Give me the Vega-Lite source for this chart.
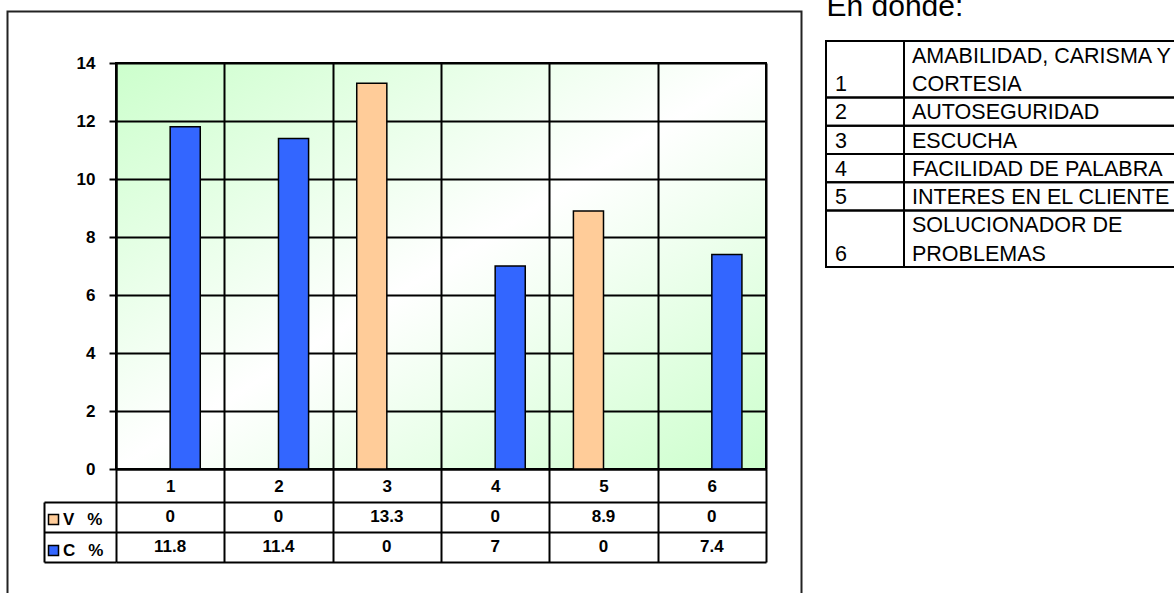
{
  "$schema": "https://vega.github.io/schema/vega-lite/v6.json",
  "width": 650,
  "height": 406,
  "autosize": {"type": "none"},
  "padding": {"left": 116, "top": 63, "right": 408, "bottom": 124},
  "background": "white",
  "view": {
    "fill": {
      "gradient": "linear", "x1": 0, "y1": 0, "x2": 1, "y2": 1,
      "stops": [
        {"offset": 0, "color": "#ccffcc"},
        {"offset": 0.5, "color": "#ffffff"},
        {"offset": 1, "color": "#ccffcc"}
      ]
    },
    "stroke": "black",
    "strokeWidth": 2
  },
  "config": {
    "font": "Liberation Sans, Arial, Helvetica, sans-serif",
    "axis": {"labelColor": "black", "titleColor": "black"}
  },
  "datasets": {
    "valores": [
      {"criterio": "1", "serie": "V %", "pct": 0},
      {"criterio": "2", "serie": "V %", "pct": 0},
      {"criterio": "3", "serie": "V %", "pct": 13.3},
      {"criterio": "4", "serie": "V %", "pct": 0},
      {"criterio": "5", "serie": "V %", "pct": 8.9},
      {"criterio": "6", "serie": "V %", "pct": 0},
      {"criterio": "1", "serie": "C %", "pct": 11.8},
      {"criterio": "2", "serie": "C %", "pct": 11.4},
      {"criterio": "3", "serie": "C %", "pct": 0},
      {"criterio": "4", "serie": "C %", "pct": 7},
      {"criterio": "5", "serie": "C %", "pct": 0},
      {"criterio": "6", "serie": "C %", "pct": 7.4}
    ],
    "definiciones": [
      {"num": "1", "texto": "AMABILIDAD, CARISMA Y"},
      {"num": "1", "texto": "CORTESIA"},
      {"num": "2", "texto": "AUTOSEGURIDAD"},
      {"num": "3", "texto": "ESCUCHA"},
      {"num": "4", "texto": "FACILIDAD DE PALABRA"},
      {"num": "5", "texto": "INTERES EN EL CLIENTE"},
      {"num": "6", "texto": "SOLUCIONADOR DE"},
      {"num": "6", "texto": "PROBLEMAS"}
    ]
  },
  "layer": [
    {
      "data": {"name": "valores"},
      "mark": {"type": "bar", "stroke": "black", "strokeWidth": 1.5},
      "encoding": {
        "x": {
          "field": "criterio", "type": "nominal",
          "scale": {"type": "band", "domain": ["1", "2", "3", "4", "5", "6"], "paddingInner": 0, "paddingOuter": 0},
          "axis": {
            "orient": "bottom", "title": null, "labelAngle": 0, "tickBand": "extent",
            "domain": true, "domainColor": "black", "domainWidth": 2,
            "ticks": true, "tickSize": 93, "tickColor": "black", "tickWidth": 2,
            "grid": true, "gridColor": "black", "gridWidth": 2, "gridOpacity": 1,
            "labelFontSize": 17, "labelFontWeight": "bold", "labelColor": "black",
            "labelBaseline": "middle", "labelPadding": -76
          }
        },
        "xOffset": {
          "field": "serie", "type": "nominal",
          "scale": {"domain": ["V %", "C %"], "paddingInner": 0, "paddingOuter": 0.8}
        },
        "y": {
          "field": "pct", "type": "quantitative",
          "scale": {"domain": [0, 14], "nice": false},
          "axis": {
            "title": null, "values": [0, 2, 4, 6, 8, 10, 12, 14],
            "domain": true, "domainColor": "black", "domainWidth": 2,
            "ticks": true, "tickSize": 7, "tickColor": "black", "tickWidth": 2,
            "grid": true, "gridColor": "black", "gridWidth": 2, "gridOpacity": 1,
            "labelFontSize": 17, "labelFontWeight": "bold", "labelColor": "black", "labelPadding": 14
          }
        },
        "color": {
          "field": "serie", "type": "nominal",
          "scale": {"domain": ["V %", "C %"], "range": ["#ffcc99", "#3366ff"]},
          "legend": {
            "orient": "none", "direction": "vertical", "legendX": -71, "legendY": 448,
            "title": null, "padding": 0,
            "symbolType": "square", "symbolSize": 100, "symbolStrokeColor": "black",
            "symbolStrokeWidth": 1.5, "symbolOpacity": 1,
            "labelFontSize": 17, "labelFontWeight": "bold", "labelColor": "black",
            "labelOffset": 1, "rowPadding": 13,
            "labelExpr": "replace(datum.label, ' ', '\u00a0\u00a0\u2009')"
          }
        }
      }
    },
    {
      "data": {"name": "valores"},
      "mark": {"type": "text", "fontSize": 17, "fontWeight": "bold", "color": "black"},
      "encoding": {
        "x": {
          "field": "criterio", "type": "nominal",
          "scale": {"type": "band", "domain": ["1", "2", "3", "4", "5", "6"], "paddingInner": 0, "paddingOuter": 0},
          "axis": null
        },
        "y": {
          "field": "serie", "type": "nominal",
          "scale": {"type": "band", "domain": ["V %", "C %"], "range": [439, 499], "paddingInner": 0, "paddingOuter": 0},
          "axis": {
            "orient": "left", "offset": 72, "title": null, "labels": false, "tickBand": "extent",
            "domain": true, "domainColor": "black", "domainWidth": 2,
            "ticks": true, "tickSize": -72, "tickColor": "black", "tickWidth": 2,
            "grid": true, "gridColor": "black", "gridWidth": 2, "gridOpacity": 1
          }
        },
        "text": {"field": "pct", "type": "quantitative"}
      }
    },
    {
      "data": {"values": [{}]},
      "mark": {"type": "rect", "filled": false, "stroke": "#222222", "strokeWidth": 2},
      "encoding": {
        "x": {"datum": 0, "type": "quantitative", "scale": {"domain": [0, 1], "range": [-108.5, 685.5]}, "axis": null},
        "x2": {"datum": 1},
        "y": {"datum": 0, "type": "quantitative", "scale": {"domain": [0, 1], "range": [-51.5, 540]}, "axis": null},
        "y2": {"datum": 1}
      }
    },
    {
      "data": {"name": "definiciones"},
      "transform": [{"window": [{"op": "row_number", "as": "linea"}]}],
      "encoding": {
        "x": {
          "datum": "tabla", "type": "nominal",
          "scale": {"type": "band", "domain": ["tabla"], "range": [710, 1064], "paddingInner": 0, "paddingOuter": 0},
          "axis": {
            "orient": "top", "offset": 22, "title": "En donde:",
            "labels": false, "ticks": false, "domain": false, "grid": false,
            "titleAnchor": "start", "titleAlign": "left", "titleBaseline": "alphabetic",
            "titleFontSize": 30, "titleFontWeight": "normal", "titleColor": "black", "titlePadding": 26
          }
        }
      },
      "layer": [
        {
          "mark": {"type": "bar", "fill": "transparent", "stroke": "black", "strokeWidth": 2},
          "encoding": {
            "y": {
              "aggregate": "count", "type": "quantitative", "stack": "zero",
              "scale": {"domain": [0, 8], "range": [-22, 204], "nice": false, "zero": false},
              "axis": null
            },
            "detail": {"field": "num", "type": "nominal"},
            "order": {"field": "num", "type": "ordinal", "sort": "ascending"}
          }
        },
        {
          "mark": {"type": "rule", "xOffset": -99, "stroke": "black", "strokeWidth": 2},
          "encoding": {
            "y": {"datum": 0, "type": "quantitative", "axis": null},
            "y2": {"datum": 8}
          }
        },
        {
          "mark": {"type": "text", "align": "left", "baseline": "bottom", "dx": -91, "dy": -1.5, "fontSize": 21.5, "color": "black"},
          "encoding": {
            "y": {"field": "linea", "type": "quantitative", "axis": null},
            "text": {"field": "texto", "type": "nominal"}
          }
        },
        {
          "mark": {"type": "text", "align": "left", "baseline": "bottom", "dx": -168, "dy": -1.5, "fontSize": 21.5, "color": "black"},
          "encoding": {
            "y": {"field": "linea", "aggregate": "max", "type": "quantitative", "axis": null},
            "text": {"field": "num", "type": "nominal"}
          }
        }
      ]
    }
  ],
  "resolve": {"scale": {"x": "independent", "y": "independent"}}
}
